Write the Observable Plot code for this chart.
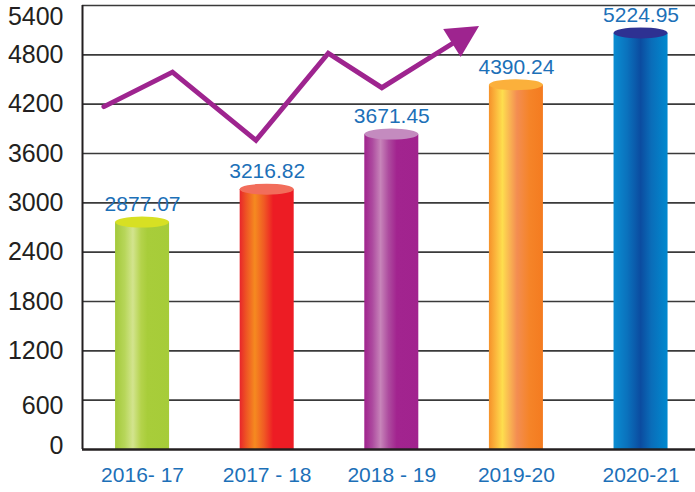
<!DOCTYPE html>
<html><head><meta charset="utf-8">
<script src="https://cdn.jsdelivr.net/npm/d3@7"></script>
<script src="https://cdn.jsdelivr.net/npm/@observablehq/plot@0.6"></script>
<style>html,body{margin:0;padding:0;background:#fff} svg{display:block}</style>
</head><body><div id="chart"></div>
<script>
// ---- data ----
const categories  = ["2016- 17", "2017 - 18", "2018 - 19", "2019-20", "2020-21"];
const barValues   = [2760, 3160, 3830, 4430, 5060];          // drawn cylinder heights
const valueLabels = ["2877.07", "3216.82", "3671.45", "4390.24", "5224.95"];
const yTicks      = [0, 600, 1200, 1800, 2400, 3000, 3600, 4200, 4800, 5400];
const trendX      = [-0.31, 0.24, 0.91, 1.49, 1.92, 2.50];   // decorative trend arrow (category index units)
const trendY      = [4170, 4590, 3760, 4820, 4400, 4950];

// ---- styles ----
const gradients = [
  [[0,"#a3c93a"],[0.18,"#b7d65a"],[0.33,"#d3e48e"],[0.48,"#b4d34b"],[0.6,"#a8cd3a"],[1,"#a6cc39"]],
  [[0,"#e8262a"],[0.12,"#ee5424"],[0.28,"#f58a20"],[0.45,"#f05a24"],[0.62,"#ed1c24"],[1,"#ed1c24"]],
  [[0,"#a0228d"],[0.15,"#ad4a9f"],[0.3,"#c784b9"],[0.45,"#ad4b9e"],[0.6,"#a2248f"],[1,"#a1238e"]],
  [[0,"#f5912a"],[0.12,"#fbb53c"],[0.25,"#fede4e"],[0.38,"#f9b552"],[0.52,"#f38d52"],[0.75,"#f58428"],[1,"#f47b20"]],
  [[0,"#0a8dd2"],[0.25,"#0a72bd"],[0.5,"#0b4ca0"],[0.7,"#0a6db9"],[1,"#0089cf"]]
];
const topColors = ["#d7e023", "#f26d5b", "#c48bbf", "#fbb03b", "#2e3192"];
const purple = "#9e248f";
const labelBlue = "#1c70b8";
const ink = "#231f20";
const tickShift = {0: -4, 600: 6, 5400: 11};

const bars = categories.map((c, i) => ({i, c, v: barValues[i], label: valueLabels[i]}));
const trend = trendX.map((x, k) => ({x, y: trendY[k]}));
const xDomain = [-0.482, 4.437];
const HALF = 0.2167;

const tickGroups = [
  yTicks.filter(t => !(t in tickShift)),
  ...Object.keys(tickShift).map(Number).map(t => [t])
];

const plot = Plot.plot({
  width: 695, height: 492,
  marginLeft: 82, marginRight: 0, marginTop: 5, marginBottom: 43,
  x: {domain: xDomain, axis: null},
  y: {domain: [0, 5400], axis: null},
  style: {fontFamily: "'Liberation Sans', Arial, Helvetica, sans-serif", background: "#fff", overflow: "visible"},
  marks: [
    Plot.ruleY(yTicks.filter(t => t > 0), {stroke: "#3a3a3a", strokeWidth: 1.6}),
    ...bars.map(b => Plot.rect([b], {
      x1: d => d.i - HALF, x2: d => d.i + HALF, y1: d => 0, y2: d => d.v,
      fill: `url(#bar${b.i})`
    })),
    Plot.ruleX([xDomain[0]], {stroke: ink, strokeWidth: 2}),
    Plot.ruleY([0], {stroke: ink, strokeWidth: 2.6}),
    Plot.line(trend, {x: "x", y: "y", stroke: purple, strokeWidth: 5, strokeLinejoin: "miter", strokeMiterlimit: 10}),
    Plot.text(bars, {x: "i", y: "v", text: "label", dy: -18, fill: labelBlue, fontSize: 21, lineAnchor: "middle"}),
    Plot.text(bars, {x: "i", frameAnchor: "bottom", text: "c", dy: 26, fill: labelBlue, fontSize: 21, lineAnchor: "middle"}),
    ...tickGroups.map(g => Plot.text(g, {
      frameAnchor: "left", y: d => d, text: d => String(d), textAnchor: "end",
      dx: -19, dy: tickShift[g[0]] && g.length === 1 ? tickShift[g[0]] : 0,
      fill: ink, fontSize: 25, lineAnchor: "middle"
    }))
  ]
});

const svg = d3.select(plot);
const defs = svg.insert("defs", ":first-child");
gradients.forEach((stops, i) => {
  const lg = defs.append("linearGradient").attr("id", `bar${i}`).attr("x1", 0).attr("x2", 1).attr("y1", 0).attr("y2", 0);
  stops.forEach(([o, c]) => lg.append("stop").attr("offset", o).attr("stop-color", c));
});

const xs = plot.scale("x"), ys = plot.scale("y");
// cylinder tops
bars.forEach(b => {
  const cx = xs.apply(b.i), cy = ys.apply(b.v);
  const rx = (xs.apply(b.i + HALF) - xs.apply(b.i - HALF)) / 2;
  svg.append("ellipse").attr("cx", cx).attr("cy", cy).attr("rx", rx).attr("ry", 5.5)
    .attr("fill", topColors[b.i]);
});
// arrow head along the last trend segment
{
  const n = trend.length;
  const p0 = [xs.apply(trend[n - 2].x), ys.apply(trend[n - 2].y)];
  const p1 = [xs.apply(trend[n - 1].x), ys.apply(trend[n - 1].y)];
  const dx = p1[0] - p0[0], dy = p1[1] - p0[1], len = Math.hypot(dx, dy);
  const ux = dx / len, uy = dy / len, px = -uy, py = ux;
  const base = [p1[0] - ux * 2, p1[1] - uy * 2];
  const tip = [p1[0] + ux * 30, p1[1] + uy * 30];
  const w = 16.5;
  svg.append("path")
    .attr("d", `M${tip}L${base[0] + px * w},${base[1] + py * w}L${base[0] - px * w},${base[1] - py * w}Z`)
    .attr("fill", purple);
}

document.getElementById("chart").appendChild(plot);
</script>
</body></html>
